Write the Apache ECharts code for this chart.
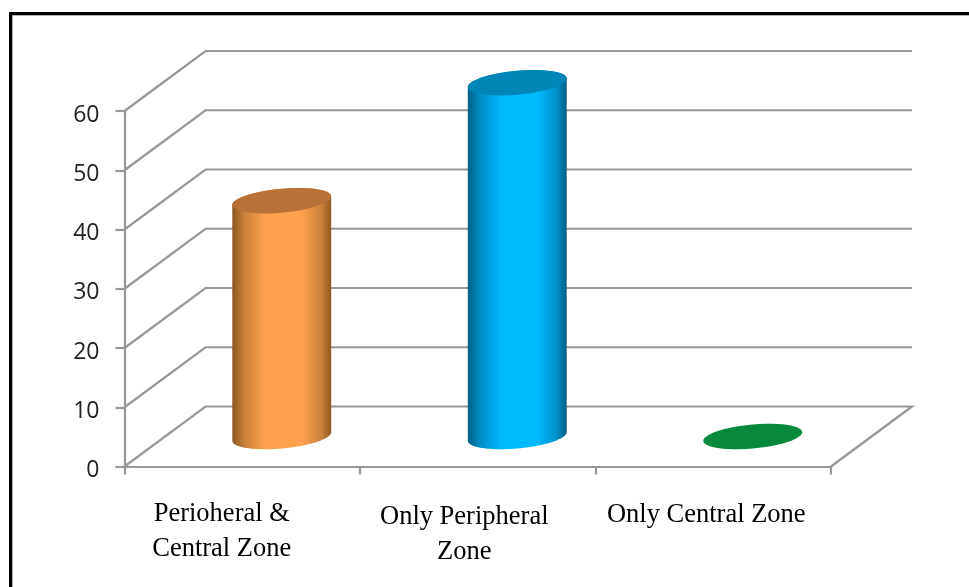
<!DOCTYPE html>
<html>
<head>
<meta charset="utf-8">
<style>html,body{margin:0;padding:0;background:#fff}#chart{width:969px;height:587px}</style>
<script src="https://cdn.jsdelivr.net/npm/echarts@6/dist/echarts.min.js"></script>
</head>
<body>
<div id="chart"></div>
<script>
// Chart content
var categories = ['Perioheral &\nCentral Zone', 'Only Peripheral\nZone', 'Only Central Zone'];
var zoneValues = [39.8, 59.7, 0];
var yTicks = [0, 10, 20, 30, 40, 50, 60];

// Cylinder colours per zone: shaded edge, half-lit, lit centre, cap
var bodyEdge = ['#8f5624', '#005f86', '#06803a'];
var bodyMid = ['#cc823c', '#008fc6', '#07893d'];
var bodyLight = ['#ffa24e', '#00baff', '#07893d'];
var capColor = ['#b87138', '#0086b6', '#07893d'];

// Oblique projection of the floor depth, in pixels
var DEPTH_X = 81;
var DEPTH_Y = 60;
var GRID_COLOR = '#979797';

// Point on a tilted elliptical cross-section
function rim(cx, cy, a, t) {
  return [cx + a * Math.cos(t), cy - 4.3 * Math.cos(t) + 12 * Math.sin(t)];
}
function arc(cx, cy, a, from, to) {
  var pts = [];
  for (var i = 0; i <= 48; i++) {
    pts.push(rim(cx, cy, a, from + (to - from) * i / 48));
  }
  return pts;
}

function renderWall(params, api) {
  var box = params.coordSys;
  var y = api.coord([0, api.value(1)])[1];
  var isFloor = api.value(1) === 0;
  var pts = [[box.x, y], [box.x + DEPTH_X, y - DEPTH_Y], [box.x + box.width + DEPTH_X, y - DEPTH_Y]];
  if (isFloor) {
    pts.push([box.x + box.width, y]);
  }
  return {
    type: 'polyline',
    shape: { points: pts },
    style: { fill: null, stroke: GRID_COLOR, lineWidth: 2.2 },
    silent: true
  };
}

function renderCylinder(params, api) {
  var i = api.value(0);
  var base = api.coord([i, 0]);
  var top = api.coord([i, api.value(1)]);
  var a = api.size([1, 0])[0] * 0.21;
  var cx = base[0] + DEPTH_X / 2 - 1;
  var baseY = base[1] - DEPTH_Y / 2;
  var topY = top[1] - DEPTH_Y / 2;
  var children = [];
  if (api.value(1) > 0) {
    // body outline: round the lower base, up the left side, across the top rim
    var bottom = arc(cx, baseY, a, 0, Math.PI);
    var upper = arc(cx, topY, a, Math.PI, 2 * Math.PI);
    children.push({
      type: 'polygon',
      shape: { points: bottom.concat(upper) },
      style: {
        fill: new echarts.graphic.LinearGradient(0, 0, 1, 0, [
          { offset: 0, color: bodyEdge[i] },
          { offset: 0.13, color: bodyMid[i] },
          { offset: 0.34, color: bodyLight[i] },
          { offset: 0.7, color: bodyLight[i] },
          { offset: 0.9, color: bodyMid[i] },
          { offset: 1, color: bodyEdge[i] }
        ])
      }
    });
  }
  children.push({
    type: 'polygon',
    shape: { points: arc(cx, topY, a, 0, 2 * Math.PI) },
    style: { fill: capColor[i] }
  });
  return { type: 'group', children: children, silent: true };
}

var axisStroke = { color: GRID_COLOR, width: 2.2 };
// Per-label box padding sets each category label's offset under its band
var labelPadding = [[0, 41, 0, 0], [3, 27, 0, 0], [1, 14, 0, 0]];

var chart = echarts.init(document.getElementById('chart'), null, { renderer: 'canvas' });
chart.setOption({
  animation: false,
  backgroundColor: '#ffffff',
  graphic: [
    { type: 'rect', shape: { x: 9, y: 12, width: 960, height: 3 }, style: { fill: '#000' } },
    { type: 'rect', shape: { x: 9, y: 12, width: 3, height: 575 }, style: { fill: '#000' } },
    { type: 'rect', shape: { x: 12, y: 15, width: 957, height: 1 }, style: { fill: '#b0b0b0' } },
    { type: 'rect', shape: { x: 12, y: 15, width: 1, height: 572 }, style: { fill: '#b0b0b0' } }
  ],
  grid: { left: 124.5, right: 138, top: 111, bottom: 120.5 },
  xAxis: {
    type: 'category',
    data: categories.map(function (c, i) {
      return { value: c, textStyle: { padding: labelPadding[i] } };
    }),
    boundaryGap: true,
    axisLine: { lineStyle: axisStroke },
    axisTick: { show: true, length: 8, lineStyle: axisStroke, alignWithLabel: false },
    axisLabel: {
      interval: 0,
      margin: 30,
      hideOverlap: false,
      fontFamily: 'Liberation Serif',
      fontSize: 26.5,
      lineHeight: 35,
      color: '#000'
    }
  },
  yAxis: {
    type: 'value',
    min: 0,
    max: 60,
    interval: 10,
    axisLine: { show: true, lineStyle: axisStroke },
    axisTick: { show: true, length: 9, lineStyle: axisStroke },
    splitLine: { show: false },
    axisLabel: {
      margin: 25,
      fontFamily: 'Open Sans',
      fontSize: 23,
      verticalAlign: 'top',
      lineHeight: 8,
      color: '#222'
    }
  },
  series: [
    {
      type: 'custom',
      name: 'wall',
      coordinateSystem: 'cartesian2d',
      encode: { x: 0, y: 1 },
      renderItem: renderWall,
      data: yTicks.map(function (v) { return [0, v]; }),
      z: 1
    },
    {
      type: 'custom',
      name: 'zones',
      coordinateSystem: 'cartesian2d',
      encode: { x: 0, y: 1 },
      renderItem: renderCylinder,
      data: zoneValues.map(function (v, i) { return [i, v]; }),
      z: 2
    }
  ]
});
</script>
</body>
</html>
